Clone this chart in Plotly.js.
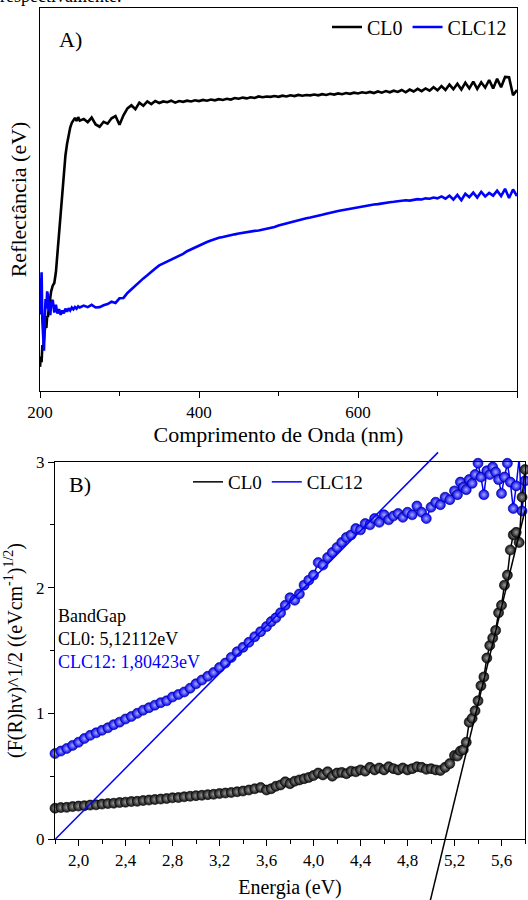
<!DOCTYPE html>
<html><head><meta charset="utf-8">
<script src="https://cdn.plot.ly/plotly-3.0.1.min.js"></script>
<style>html,body{margin:0;padding:0;background:#fff}#chart{width:528px;height:900px}</style>
</head><body><div id="chart"></div>
<script>
// ---------- Panel A: reflectance spectra ----------
const wavelength = [200,201,202,203,204,205,206,207,208,209,210,211,212,213,214,
216,218,220,222,224,226,228,230,232,234,236,238,240,242,244,246,248,250,
255,260,265,270,275,280,285,290,295,300,305,310,315,320,325,330,335,340,345,350,
355,360,365,370,375,380,385,390,395,400,405,410,415,420,425,430,435,440,445,450,
455,460,465,470,475,480,485,490,495,500,505,510,515,520,525,530,535,540,545,550,
555,560,565,570,575,580,585,590,595,600,605,610,615,620,625,630,635,640,645,650,
655,660,665,670,675,680,685,690,695,700,705,710,715,720,725,730,735,740,745,750,
755,760,765,770,775,780,785,790,795,800];
const reflCL0 = [6.3,9.0,7.5,12.0,11.0,14.5,15.9,17.0,16.5,19.5,19.3,21.5,22.0,24.5,26.0,
27.5,28.2,31.0,36.0,41.5,46.5,52.5,57.5,61.5,64.5,67.0,68.8,70.0,70.8,71.3,70.5,71.5,70.6,
71.0,70.2,71.4,69.6,69.0,70.3,69.8,71.2,71.8,69.5,72.0,73.8,74.6,73.6,75.3,74.5,75.6,74.9,75.7,75.2,
75.6,75.4,75.8,75.3,75.7,75.5,75.8,75.6,75.9,75.7,76.0,75.8,76.1,75.9,76.2,76.0,76.3,76.1,76.5,76.3,
76.6,76.4,76.7,76.5,76.9,76.7,76.9,76.8,77.0,76.8,77.1,76.9,77.2,77.0,77.3,77.1,77.3,77.2,77.4,77.2,
77.5,77.3,77.6,77.4,77.7,77.5,77.8,77.6,77.9,77.7,78.0,77.8,78.1,77.8,78.2,77.9,78.3,78.0,78.4,78.1,
78.6,78.0,78.7,78.2,78.9,78.3,79.0,78.4,79.3,78.5,79.6,78.6,80.0,78.8,80.2,78.7,80.5,79.0,80.8,78.9,
80.6,79.2,81.2,79.0,81.5,79.3,82.0,81.9,77.2,78.6];
const reflCLC12 = [20.0,28.5,31.0,18.0,12.0,10.5,18.5,24.0,21.5,26.0,25.0,21.0,23.5,19.8,22.8,
23.8,20.5,22.5,20.2,21.4,19.9,21.0,20.3,21.5,20.7,21.6,21.0,21.8,21.3,21.9,21.5,22.1,21.8,
22.3,21.9,22.5,21.8,21.9,22.4,22.7,23.3,23.0,24.2,24.3,25.6,26.6,27.6,28.6,29.4,30.2,31.2,32.0,32.8,
33.3,33.8,34.3,34.8,35.2,35.8,36.5,37.0,37.6,38.1,38.5,38.9,39.3,39.7,40.0,40.2,40.5,40.7,40.9,41.1,
41.3,41.5,41.6,41.8,41.9,42.1,42.3,42.6,42.8,43.2,43.5,43.8,44.1,44.3,44.6,44.9,45.1,45.3,45.5,45.8,
46.0,46.3,46.6,46.8,47.0,47.2,47.4,47.6,47.8,48.1,48.2,48.4,48.5,48.7,48.8,49.0,49.1,49.3,49.4,49.5,
49.6,49.8,49.7,50.0,50.1,50.0,50.3,50.2,50.5,50.3,50.8,50.2,51.0,50.0,51.2,49.8,51.5,50.6,51.8,50.5,
52.0,50.8,51.7,51.0,52.3,50.9,52.8,50.4,52.6,50.9];
const wavelengthTicks = [200,400,600,800];
const wavelengthMinorTicks = [300,500,700];

// ---------- Panel B: Tauc / Kubelka-Munk ----------
const energy = [1.80,1.85,1.90,1.95,2.00,2.05,2.10,2.15,2.20,2.25,2.30,2.35,2.40,2.45,2.50,2.55,2.60,2.65,2.70,2.75,
2.80,2.85,2.90,2.95,3.00,3.05,3.10,3.15,3.20,3.25,3.30,3.35,3.40,3.45,3.50,3.55,3.60,
3.64,3.68,3.72,3.76,3.80,3.84,3.88,3.92,3.96,4.00,4.04,4.08,4.12,4.16,4.20,4.24,4.28,4.32,4.36,4.40,
4.44,4.48,4.52,4.56,4.60,4.64,4.68,4.72,4.76,4.80,4.84,4.88,4.92,4.96,5.00,5.04,5.08,5.12,5.16,5.20,
5.225,5.25,5.275,5.30,5.325,5.35,5.375,5.40,5.425,5.45,5.475,5.50,5.525,5.55,5.575,5.60,5.625,5.65,5.675,5.70,5.725,5.75,5.775,5.80];
const kmCL0 = [0.245,0.25,0.252,0.258,0.262,0.265,0.27,0.272,0.278,0.282,0.285,0.29,0.293,0.298,0.30,0.306,0.31,0.314,0.318,0.322,
0.328,0.33,0.336,0.34,0.345,0.348,0.353,0.356,0.362,0.366,0.37,0.376,0.382,0.39,0.40,0.41,0.39,
0.40,0.42,0.43,0.455,0.44,0.46,0.47,0.48,0.49,0.505,0.525,0.51,0.535,0.50,0.525,0.53,0.52,0.54,0.535,0.55,
0.54,0.57,0.55,0.565,0.55,0.575,0.56,0.55,0.565,0.55,0.56,0.575,0.57,0.555,0.56,0.55,0.545,0.57,0.60,0.665,
0.66,0.70,0.71,0.77,0.93,0.96,1.02,1.10,1.22,1.29,1.44,1.54,1.60,1.66,1.80,1.86,2.02,2.10,2.30,2.42,2.44,2.36,2.72,2.94];
const kmCLC12 = [0.68,0.70,0.72,0.745,0.77,0.80,0.825,0.845,0.865,0.885,0.91,0.93,0.955,0.975,1.00,1.025,1.045,1.065,1.085,1.10,
1.13,1.15,1.17,1.20,1.235,1.265,1.295,1.325,1.365,1.40,1.445,1.49,1.525,1.565,1.61,1.65,1.69,
1.73,1.76,1.80,1.86,1.92,1.90,1.95,2.02,2.06,2.10,2.20,2.18,2.24,2.28,2.32,2.36,2.40,2.42,2.47,2.46,
2.51,2.50,2.55,2.52,2.58,2.54,2.57,2.59,2.56,2.60,2.58,2.65,2.60,2.55,2.64,2.68,2.66,2.72,2.70,2.77,
2.74,2.84,2.80,2.78,2.86,2.83,2.90,2.99,2.88,2.74,2.93,2.90,2.96,2.92,2.86,2.75,2.88,2.99,2.84,2.63,2.81,3.03,2.61,2.85];
const seriesNames = ['CL0','CLC12'];
const bandGap = [5.12112, 1.80423];       // x-intercepts of the linear fits (eV)
const fitSlope = [3.85, 0.945];
const fitEnergySpan = [[4.99, 5.80],[1.80423, 5.06]];

// ---------- layout geometry ----------
const W=528,H=900;
const px = v => v/W, py = v => 1 - v/H;
const domA = {x:[px(40),px(517)], y:[py(391),py(8)]};
const domB = {x:[px(55),px(525)], y:[py(839),py(462)]};
const rangeB = {x:[1.8,5.8], y:[0,3]};
function extend(r,d){const s=(r[1]-r[0])/(d[1]-d[0]);return [r[0]-d[0]*s, r[1]+(1-d[1])*s];}

const serif = 'Liberation Serif';
const BLUE = '#0000ff', BLACK = '#000000';
const tf = (s)=>({family:serif,size:s,color:'#000'});

const fitTraces = bandGap.map((eg,i)=>{
  const xs = fitEnergySpan[i];
  return {x:xs, y:xs.map(e=>fitSlope[i]*(e-eg)), mode:'lines', xaxis:'x3', yaxis:'y3',
    line:{color:i===0?BLACK:BLUE, width:1.5}, showlegend:false, hoverinfo:'skip'};
});

const data = [
  {x:wavelength, y:reflCL0, mode:'lines', name:seriesNames[0], line:{color:BLACK,width:2.6}, xaxis:'x', yaxis:'y', legend:'legend'},
  {x:wavelength, y:reflCLC12, mode:'lines', name:seriesNames[1], line:{color:BLUE,width:2.6}, xaxis:'x', yaxis:'y', legend:'legend'},
  {x:energy, y:kmCLC12, mode:'lines', name:seriesNames[1], line:{color:BLUE,width:1.5}, xaxis:'x2', yaxis:'y2', legend:'legend2', legendrank:2},
  {x:energy, y:kmCLC12, mode:'markers', showlegend:false, cliponaxis:false, xaxis:'x2', yaxis:'y2',
    marker:{size:10,color:'#0000ee',gradient:{type:'radial',color:'#a8a8ff'},line:{color:'#00008a',width:0.6}}},
  {x:energy, y:kmCL0, mode:'lines', name:seriesNames[0], line:{color:BLACK,width:1.5}, xaxis:'x2', yaxis:'y2', legend:'legend2', legendrank:1},
  {x:energy, y:kmCL0, mode:'markers', showlegend:false, cliponaxis:false, xaxis:'x2', yaxis:'y2',
    marker:{size:10,color:'#111111',gradient:{type:'radial',color:'#9a9a9a'},line:{color:'#000',width:0.6}}},
  ...fitTraces
];

const axisBase = {showline:true, linecolor:'#000', linewidth:1, mirror:true, showgrid:false, zeroline:false,
  ticks:'outside', ticklen:6, tickwidth:1, tickcolor:'#000', tickfont:tf(17), automargin:false};

const layout = {
  width:W, height:H, margin:{l:0,r:0,t:0,b:0},
  paper_bgcolor:'#fff', plot_bgcolor:'rgba(0,0,0,0)',
  separators:',.', font:{family:serif,color:'#000'},
  xaxis:{...axisBase, domain:domA.x, anchor:'y', range:[200,800], tickmode:'array', tickvals:wavelengthTicks,
    minor:{tickvals:wavelengthMinorTicks, ticks:'outside', ticklen:4, tickcolor:'#000'},
    title:{text:'Comprimento de Onda (nm)', font:tf(22), standoff:4}},
  yaxis:{...axisBase, domain:domA.y, anchor:'x', range:[0,100], showticklabels:false, ticks:'',
    title:{text:'Reflectância (eV)', font:tf(22), standoff:6}},
  xaxis2:{...axisBase, domain:domB.x, anchor:'y2', range:rangeB.x, tick0:2.0, dtick:0.4, tickformat:'.1f',
    minor:{dtick:0.2, ticks:'outside', ticklen:4, tickcolor:'#000'},
    title:{text:'Energia (eV)', font:tf(20), standoff:10}},
  yaxis2:{...axisBase, domain:domB.y, anchor:'x2', range:rangeB.y, dtick:1,
    minor:{dtick:0.5, ticks:'outside', ticklen:4, tickcolor:'#000'},
    title:{text:'(F(R)hv)^1/2 ((eVcm<sup>-1</sup>)<sup>1/2</sup>)', font:tf(20), standoff:8}},
  xaxis3:{domain:[0,1], anchor:'y3', range:extend(rangeB.x, domB.x), visible:false, fixedrange:true},
  yaxis3:{domain:[0,1], anchor:'x3', range:extend(rangeB.y, domB.y), visible:false, fixedrange:true},
  legend:{orientation:'h', x:px(512), xanchor:'right', y:py(27), yanchor:'middle', font:tf(20),
    bgcolor:'rgba(0,0,0,0)', borderwidth:0},
  legend2:{orientation:'h', x:px(368), xanchor:'right', y:py(482), yanchor:'middle', font:tf(19),
    bgcolor:'rgba(0,0,0,0)', borderwidth:0},
  annotations:[
    {text:'respectivamente.', xref:'paper', yref:'paper', x:px(-1), y:py(7.5), xanchor:'left', yanchor:'bottom', showarrow:false, font:tf(18), borderpad:0},
    {text:'A)', xref:'paper', yref:'paper', x:px(57), y:py(40), xanchor:'left', yanchor:'middle', showarrow:false, font:tf(22)},
    {text:'B)', xref:'paper', yref:'paper', x:px(67), y:py(484), xanchor:'left', yanchor:'middle', showarrow:false, font:tf(22)},
    {text:'BandGap', xref:'paper', yref:'paper', x:px(56), y:py(616), xanchor:'left', yanchor:'middle', showarrow:false, font:tf(18)},
    {text:seriesNames[0]+': '+bandGap[0].toFixed(5).replace('.',',')+'eV', xref:'paper', yref:'paper', x:px(56), y:py(639), xanchor:'left', yanchor:'middle', showarrow:false, font:tf(18)},
    {text:seriesNames[1]+': '+bandGap[1].toFixed(5).replace('.',',')+'eV', xref:'paper', yref:'paper', x:px(56), y:py(662), xanchor:'left', yanchor:'middle', showarrow:false, font:{family:serif,size:18,color:BLUE}}
  ]
};
Plotly.newPlot('chart', data, layout, {displayModeBar:false, staticPlot:true});
</script></body></html>
